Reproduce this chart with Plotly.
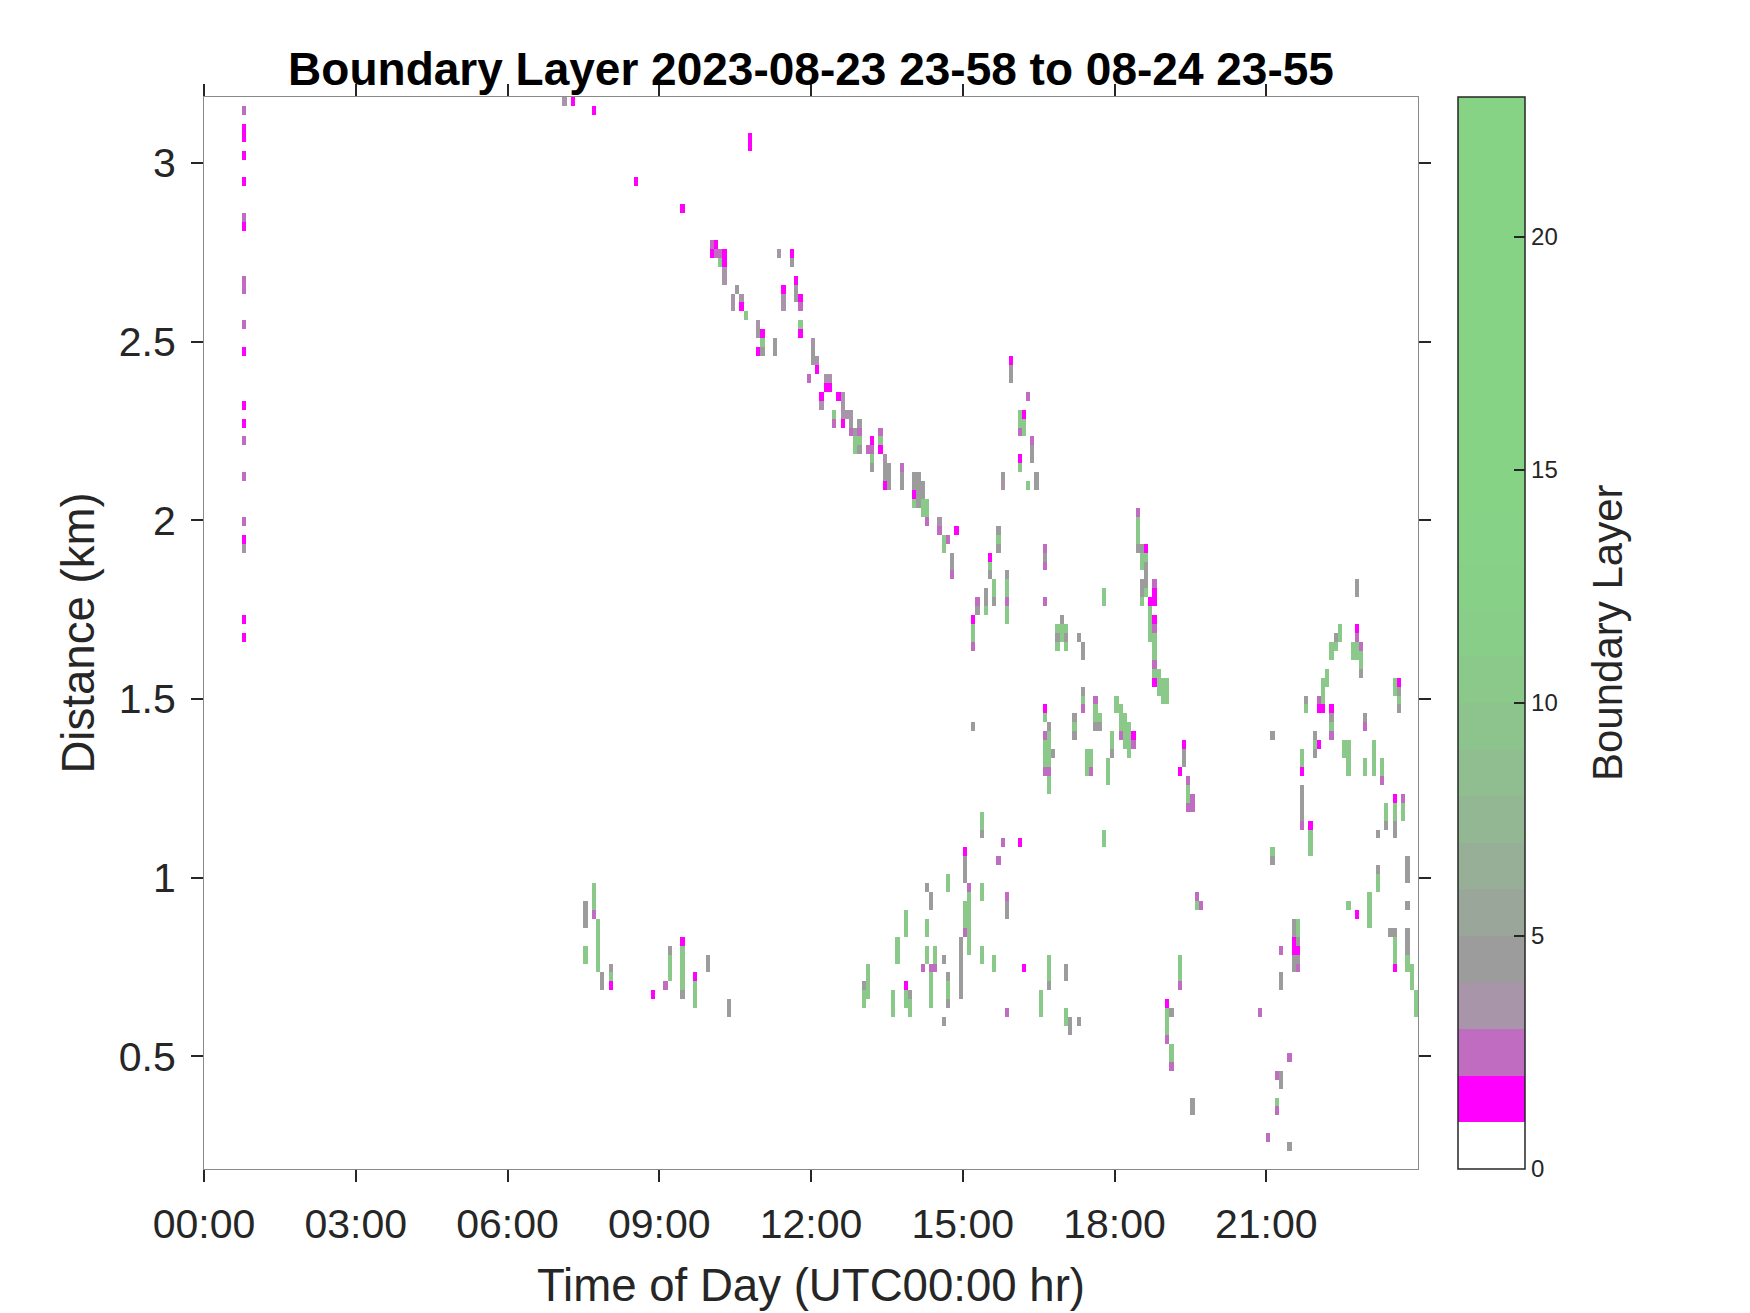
import plotly.graph_objects as go

# ---------------- data (5-minute time bins, 25 m range gates) ----------------
# Each entry: start minute of the time bin, bottom of the lowest gate (m),
# and the class code of consecutive gates going upward.
seg_start_min = [
    45, 45, 45, 45, 45, 45, 45, 45, 45, 45, 45, 45, 45, 45, 45, 45,
    425, 435, 460, 510, 565, 645,
    600, 605, 610, 615, 630, 625, 635, 640,
    680, 695, 700, 705, 685,
    655, 655, 660, 675, 705,
    720, 725, 715, 735, 740, 730, 750, 755,
    745, 760, 765, 770, 775,
    790, 785, 800, 805, 810, 825,
    840, 845, 850, 855,
    870, 875, 880, 890, 885,
    940, 930, 935, 925, 915, 910,
    950, 995, 995,
    1010, 1015, 1020, 1035, 1040, 1065,
    1105, 1110, 1110, 1115, 1120, 1125, 1125,
    1130, 1135, 1140,
    955, 975, 965, 970, 980, 965, 975, 985, 945,
    995, 995, 1000, 1005, 1030, 1040, 1045, 1050, 1055, 1060, 1070, 1080, 1075,
    1085, 1090, 1095, 1100, 1160, 1155, 1165, 1170, 1065, 965,
    1365, 1345, 1340, 1335, 1365, 1360, 1370, 1330, 1325, 1320, 1305, 1335,
    1315, 1320, 1300, 1300, 1310, 1350, 1355, 1375, 1375, 1385, 1395, 1410,
    1415, 1410, 1420, 1400, 1390, 1265,
    950, 1175, 1180, 1265, 1390, 1425, 1355, 1365, 1380, 1425,
    1290, 1295, 1275, 1275,
    1410, 1405, 1425, 1430, 1435,
    970, 1000, 1020, 990, 950, 1020, 1025, 1035, 1155, 1140, 1145, 1145,
    1250, 1285, 1270, 1275, 1170, 1270, 1260, 1285,
    910, 460, 450, 450, 465, 470, 480, 530, 545, 550, 565, 580, 595, 620,
    780, 785, 815, 820, 830, 835, 830, 850, 855, 860, 855, 855, 860, 865,
    875, 880, 875, 880, 900, 900, 905, 895, 920, 920, 920, 935, 940, 945,
]
seg_base_m = [
    1660, 1710, 1910, 1985, 2110, 2210, 2260, 2310, 2460, 2535, 2635, 2810, 2935, 3010, 3060, 3135,
    3160, 3160, 3135, 2935, 2860, 3035,
    2735, 2735, 2710, 2660, 2635, 2585, 2585, 2560,
    2735, 2710, 2610, 2585, 2585,
    2510, 2460, 2460, 2460, 2510,
    2435, 2410, 2385, 2360, 2360, 2310, 2335, 2260,
    2260, 2285, 2235, 2185, 2185,
    2135, 2185, 2185, 2085, 2085, 2085,
    2035, 2035, 2010, 1985,
    1960, 1910, 1935, 1960, 1835,
    1910, 1835, 1760, 1735, 1735, 1635,
    1710, 1860, 1760,
    1635, 1660, 1635, 1660, 1610, 1760,
    1910, 1860, 1760, 1785, 1660, 1535, 1760,
    1510, 1485, 1485,
    2385, 2335, 2235, 2235, 2160, 2135, 2085, 2085, 2085,
    1285, 1435, 1235, 1335, 1385, 1460, 1285, 1285, 1410, 1410, 1260, 1460, 1335,
    1385, 1360, 1335, 1360, 1310, 1285, 1185, 1185, 1085, 1085,
    1785, 1660, 1635, 1610, 1610, 1610, 1560, 1535, 1460, 1460, 1460, 1385,
    1335, 1360, 1285, 1135, 1060, 1335, 1285, 1410, 1285, 1285, 1260, 1510,
    1460, 1110, 1160, 1135, 1110, 1385,
    885, 910, 910, 1035, 960, 985, 910, 885, 860, 910,
    735, 735, 785, 685,
    735, 835, 735, 685, 610,
    735, 685, 710, 610, 610, 585, 560, 585, 685, 535, 610, 460,
    610, 485, 435, 410, 335, 335, 260, 235,
    1410, 885, 860, 760, 735, 685, 685, 660, 685, 710, 660, 635, 735, 610,
    635, 660, 610, 760, 635, 610, 835, 735, 960, 910, 835, 760, 635, 735,
    760, 635, 585, 960, 985, 835, 785, 660, 1110, 935, 760, 735, 1035, 1085,
]
seg_cells = [
    "M", "M", "PM", "O", "O", "O", "M", "M", "M", "O", "OO", "MO", "M", "M", "MM", "O",
    "P", "M", "M", "M", "M", "MM",
    "MO", "OM", "gO", "PPMM", "G", "PP", "MP", "g",
    "P", "GM", "GGM", "OM", "PPM",
    "GP", "M", "GgM", "GG", "Mg",
    "GGP", "MP", "O", "MP", "MP", "PM", "M", "MPPP",
    "Og", "P", "OGP", "ggG", "GgOG",
    "GgOM", "O", "MgO", "MGGP", "GGG", "GGO",
    "gMGG", "GGGG", "ggGG", "Ogg",
    "OP", "gg", "O", "M", "OGG",
    "GgG", "GgM", "Ggg", "gGG", "GO", "OggM",
    "ggOggG", "OGO", "O",
    "gGg", "ggG", "gGg", "G", "GG", "gg",
    "GgggO", "ggG", "gGG", "gGGGgM", "ggggM", "MgOgggOM", "MMO",
    "ggg", "ggg", "ggg",
    "GGM", "O", "Ogg", "ggM", "GGO", "gM", "g", "GG", "PG",
    "OgggO", "gM", "ggOggggG", "G", "GgG", "OgG", "ggg", "Ogg", "GggO", "Gg", "ggg", "gg", "Ggg",
    "Oggg", "gggg", "gggg", "OM", "GGM", "M", "OggO", "OO", "gg", "M",
    "GG", "gg", "gG", "gg", "ggOM", "gg", "GggO", "gg", "Mggg", "MO", "gG", "OgGM",
    "GgG", "M", "Mgg", "OGGGG", "gggM", "gg", "gggg", "OG", "gg", "gggg", "Ogg", "gg",
    "GgGM", "GGggM", "ggO", "Ggg", "G", "G",
    "GGO", "gO", "O", "Gg", "ggG", "GGG", "g", "M", "gggg", "G",
    "GGMMGG", "OGMGgg", "O", "GG",
    "MgggG", "G", "ggGGG", "ggg", "ggg",
    "M", "Gggg", "GG", "ggg", "O", "gg", "GG", "G", "Oggg", "OgggM", "G", "Ogg",
    "O", "O", "O", "GG", "GG", "Og", "O", "G",
    "G", "Oggg", "GGG", "gg", "gggggg", "GG", "MgG", "M", "O", "gggG", "GgggggM", "gggM", "GG", "GG",
    "ggG", "gggg", "ggg", "ggg", "ggM", "ggG", "ggg", "O", "G", "GG", "gg", "gg", "ggggO", "Ogg",
    "G", "GggG", "G", "gg", "GGGM", "Oggg", "gggggggO", "GGGGGGG", "Ggg", "gg", "gg", "gg", "O", "O",
]
# class code -> boundary-layer value
code_values = {"M": 1.5, "O": 2.5, "P": 3.5, "G": 4.5, "g": 10.5}

# discrete colormap, one colour per unit from 0 to 23
band_colors = [
    "#FFFFFF", "#FF00FF", "#C06CC0", "#A995AA", "#9C9C9C", "#99A699",
    "#96AF96", "#93B793", "#90BE90", "#8DC48D", "#8AC98A", "#88CD88",
    "#87D087", "#86D286", "#86D386", "#86D386", "#86D386", "#86D386",
    "#86D386", "#86D386", "#86D386", "#86D386", "#86D386",
]
cbar_ticks = [0, 5, 10, 15, 20]
x_tick_hours = [0, 3, 6, 9, 12, 15, 18, 21]
x_tick_labels = ["00:00", "03:00", "06:00", "09:00", "12:00", "15:00", "18:00", "21:00"]
y_tick_km = [0.5, 1, 1.5, 2, 2.5, 3]
y_tick_labels = ["0.5", "1", "1.5", "2", "2.5", "3"]

# ---------------- grid ----------------
BIN_MIN = 5
GATE_M = 25
GATE0_M = 185
N_T = 24 * 60 // BIN_MIN
N_Z = 120
x_centers = [(i * BIN_MIN + BIN_MIN / 2) / 60 for i in range(N_T)]
y_centers = [(GATE0_M + GATE_M * k + GATE_M / 2) / 1000 for k in range(N_Z)]
z = [[None] * N_T for _ in range(N_Z)]
for t0, b0, cells in zip(seg_start_min, seg_base_m, seg_cells):
    i = t0 // BIN_MIN
    k0 = (b0 - GATE0_M) // GATE_M
    for n, c in enumerate(cells):
        if 0 <= k0 + n < N_Z:
            z[k0 + n][i] = code_values[c]

nb = len(band_colors)
colorscale = []
for i, c in enumerate(band_colors):
    colorscale.append([i / nb, c])
    colorscale.append([(i + 1) / nb, c])

FONT = "Liberation Sans, Arial, Helvetica, sans-serif"
TXT = "#262626"

fig = go.Figure(go.Heatmap(
    x=x_centers, y=y_centers, z=z,
    zmin=0, zmax=nb, colorscale=colorscale,
    hoverinfo="skip",
    colorbar=dict(
        x=1.0329, xanchor="left", xpad=0,
        y=0.5, yanchor="middle", len=1, lenmode="fraction", ypad=0,
        thickness=67, thicknessmode="pixels",
        outlinecolor=TXT, outlinewidth=1.5,
        tickvals=cbar_ticks, ticks="inside", ticklen=11, tickwidth=1.5, tickcolor=TXT,
        tickprefix="\u00a0",
        tickfont=dict(family=FONT, size=24, color=TXT),
    ),
))

# colorbar label placed as rotated text beside the colorbar
fig.add_annotation(
    text="Boundary Layer", textangle=-90,
    xref="paper", yref="paper", x=1.1557, y=0.5,
    xanchor="center", yanchor="middle", showarrow=False,
    font=dict(family=FONT, size=42, color=TXT),
)

fig.update_layout(
    width=1750, height=1313,
    margin=dict(l=196, r=340, t=89, b=152, autoexpand=False),
    paper_bgcolor="white", plot_bgcolor="white",
    title=dict(text="<b>Boundary Layer 2023-08-23 23-58 to 08-24 23-55</b>",
               x=803 / 1750, xanchor="center", y=1 - 61 / 1313, yanchor="middle",
               font=dict(family=FONT, size=46, color="black")),
    xaxis=dict(
        range=[0, 24], tickvals=x_tick_hours, ticktext=x_tick_labels,
        ticks="outside", ticklen=12, tickwidth=1.5, tickcolor=TXT,
        ticklabelstandoff=7,
        showline=True, linecolor="#8a8a8a", linewidth=1.2, mirror="ticks",
        showgrid=False, zeroline=False,
        tickfont=dict(family=FONT, size=41, color=TXT),
        title=dict(text="Time of Day (UTC00:00 hr)", standoff=22,
                   font=dict(family=FONT, size=45.6, color=TXT)),
    ),
    yaxis=dict(
        range=[0.185, 3.185], tickvals=y_tick_km, ticktext=y_tick_labels,
        ticks="outside", ticklen=12, tickwidth=1.5, tickcolor=TXT,
        ticklabelstandoff=7,
        showline=True, linecolor="#8a8a8a", linewidth=1.2, mirror="ticks",
        showgrid=False, zeroline=False,
        tickfont=dict(family=FONT, size=41, color=TXT),
        title=dict(text="Distance (km)", standoff=9,
                   font=dict(family=FONT, size=45.6, color=TXT)),
    ),
)

fig.write_html("out.html")
